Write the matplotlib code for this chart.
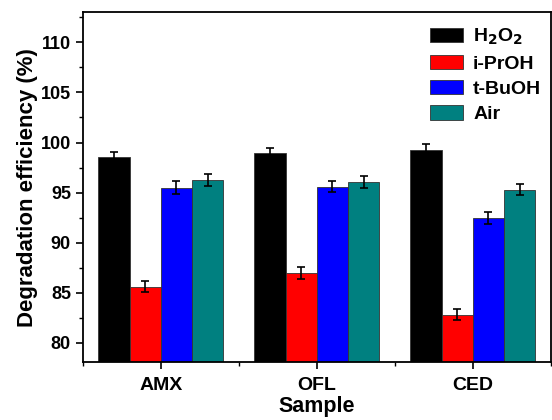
import numpy as np
import matplotlib.pyplot as plt
from matplotlib.ticker import MultipleLocator

plt.rcParams['font.family'] = ['Liberation Sans', 'DejaVu Sans']
plt.rcParams['font.weight'] = 'bold'

samples = ["AMX", "OFL", "CED"]
series = [r"H$_\mathbf{2}$O$_\mathbf{2}$", "i-PrOH", "t-BuOH", "Air"]
colors = ["#000000", "#ff0000", "#0000ff", "#008080"]

h2o2 = [98.6, 99.0, 99.3]
iproh = [85.6, 87.0, 82.8]
tbuoh = [95.5, 95.6, 92.5]
air = [96.3, 96.1, 95.3]
values = [h2o2, iproh, tbuoh, air]

h2o2_err = [0.5, 0.5, 0.55]
iproh_err = [0.55, 0.6, 0.55]
tbuoh_err = [0.65, 0.55, 0.6]
air_err = [0.6, 0.6, 0.55]
errors = [h2o2_err, iproh_err, tbuoh_err, air_err]

fig = plt.figure(figsize=(5.52, 4.2), dpi=100)
ax = fig.add_axes([0.150, 0.138, 0.848, 0.833])

x = np.arange(1, len(samples) + 1)
w = 0.2
for i, (vals, errs) in enumerate(zip(values, errors)):
    pos = x - 0.4 + w * (i + 0.5)
    ax.bar(pos, vals, width=w, color=colors[i], edgecolor="#333333",
           linewidth=0.6, label=series[i], zorder=2)
    ax.errorbar(pos, vals, yerr=errs, fmt="none", ecolor="black",
                elinewidth=1.2, capsize=3, capthick=1.2, zorder=3)

ax.set_xlim(0.5, 3.5)
ax.set_ylim(78.1, 113)
ax.set_xticks(x)
ax.set_xticklabels(samples, fontsize=14, fontweight="bold")
ax.xaxis.set_minor_locator(MultipleLocator(0.5))
ax.yaxis.set_major_locator(MultipleLocator(5))
ax.yaxis.set_minor_locator(MultipleLocator(2.5))
ax.set_yticks(np.arange(80, 111, 5))
ax.tick_params(axis="both", which="major", direction="out", length=5, width=1.2, labelsize=13)
ax.tick_params(axis="x", which="major", labelsize=14, pad=6)
ax.tick_params(axis="both", which="minor", direction="out", length=3, width=1.0)
for lbl in ax.get_yticklabels():
    lbl.set_fontweight("bold")
for sp in ax.spines.values():
    sp.set_linewidth(1.3)

ax.set_xlabel("Sample", fontsize=15.5, fontweight="bold", labelpad=1)
ax.set_ylabel("Degradation efficiency (%)", fontsize=16, fontweight="bold", labelpad=2)

leg = ax.legend(loc="upper right", bbox_to_anchor=(1.0, 0.985), frameon=False,
                fontsize=14, handlelength=1.7, handleheight=0.75, labelspacing=0.38,
                handletextpad=0.5, borderaxespad=0.1)

fig.savefig("out.png", dpi=100)
